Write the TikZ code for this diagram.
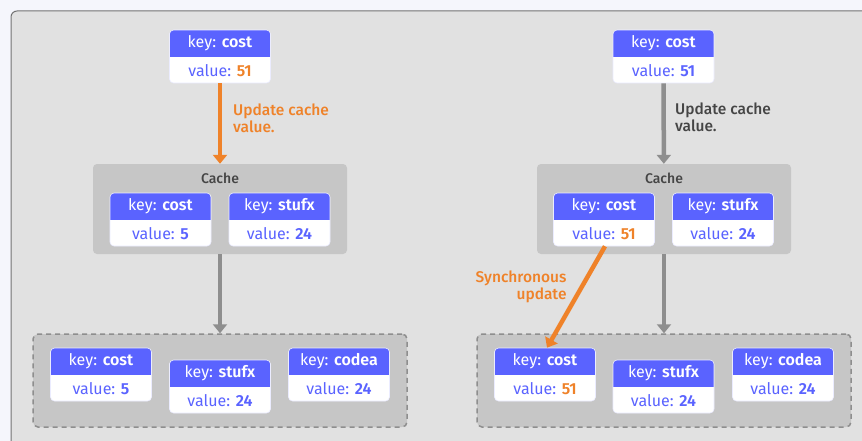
\documentclass[tikz,border=0pt]{standalone}
\usepackage{fontspec}
\setmainfont{Fira Sans}[BoldFont={Fira Sans SemiBold}]
\newfontfamily\firamed{Fira Sans Medium}
\usetikzlibrary{arrows.meta}

\definecolor{keyblue}{HTML}{5A63FF}
\definecolor{updorange}{HTML}{EF8229}
\definecolor{pagebg}{HTML}{F5F6FC}
\definecolor{panelgray}{HTML}{E1E1E1}
\definecolor{cachegray}{HTML}{C6C6C6}
\definecolor{arrowgray}{HTML}{8E8E8E}
\definecolor{textgray}{HTML}{454545}

% name, position, key, value, value colour
\newcommand\kventry[5]{%
  \node[kvbox] (#1) at (#2) {};
  \node[keytext] (#1k) at ([yshift=-13.5pt]#1.north) {key: \textbf{#3}};
  \node[valtext] (#1v) at ([yshift=13pt]#1.south) {value: \textbf{\color{#5}#4}};
}

\begin{document}
\begin{tikzpicture}[x=1pt, y=-1pt, inner sep=0pt, font=\fontsize{16}{18}\selectfont]
    \tikzstyle{kvbox}=[fill=white, draw=keyblue!12, line width=0.6pt, rounded corners=4pt, minimum width=101pt, minimum height=53pt,
        path picture={\fill[keyblue, sharp corners] (path picture bounding box.north west) rectangle ([yshift=26pt]path picture bounding box.south east);}]
    \tikzstyle{keytext}=[text=white]
    \tikzstyle{valtext}=[text=keyblue]
    \tikzstyle{lbltext}=[font=\firamed\fontsize{15.5}{17}\selectfont]
    \tikzstyle{cachelbl}=[text=textgray, font=\firamed\fontsize{14}{16}\selectfont]
    \tikzstyle{cachebox}=[fill=cachegray, rounded corners=4pt, minimum width=254pt, minimum height=90pt]
    \tikzstyle{storebox}=[fill=cachegray, draw=arrowgray, line width=1.5pt, dash pattern=on 5pt off 4pt, rounded corners=5pt, minimum width=374pt, minimum height=93pt]
    \tikzstyle{orangearrow}=[draw=updorange, line width=4.5pt, -{Triangle[width=14pt, length=9pt]}]
    \tikzstyle{grayarrow}=[draw=arrowgray, line width=4.5pt, -{Triangle[width=14pt, length=9pt]}]

    \useasboundingbox[fill=pagebg] (0,0) rectangle (862,441);
    \draw[draw=gray!90!black, line width=1pt, fill=panelgray, rounded corners=6pt] (11,11) rectangle (880,460);

    % left: update the cache only
    \kventry{ltop}{220,56.5}{cost}{51}{updorange}
    \node[cachebox] (lcache) at (220,209) {};
    \node[cachelbl] (lcachelbl) at (220,178) {Cache};
    \kventry{lccost}{160.5,219.5}{cost}{5}{keyblue}
    \kventry{lcstufx}{279.5,219.5}{stufx}{24}{keyblue}
    \node[storebox] (lstore) at (220,380.5) {};
    \kventry{lbcost}{101,374.5}{cost}{5}{keyblue}
    \kventry{lbstufx}{220,386.5}{stufx}{24}{keyblue}
    \kventry{lbcodea}{339,374.5}{codea}{24}{keyblue}

    \draw[orangearrow] (ltop) -- (lcache);
    \node[lbltext, anchor=west, align=left, text=updorange] (lupd) at (233,118) {Update cache\\value.};
    \draw[grayarrow] (lcache) -- (lstore);

    % right: synchronous update
    \kventry{rtop}{663.5,56.5}{cost}{51}{keyblue}
    \node[cachebox] (rcache) at (664,209) {};
    \node[cachelbl] (rcachelbl) at (664,178) {Cache};
    \kventry{rccost}{604,219.5}{cost}{51}{updorange}
    \kventry{rcstufx}{723,219.5}{stufx}{24}{keyblue}
    \node[storebox] (rstore) at (664,380.5) {};
    \kventry{rbcost}{545,374.5}{cost}{51}{updorange}
    \kventry{rbstufx}{663.5,386.5}{stufx}{24}{keyblue}
    \kventry{rbcodea}{783,374.5}{codea}{24}{keyblue}

    \draw[grayarrow] (rtop) -- (rcache);
    \node[lbltext, anchor=west, align=left, text=textgray] (rupd) at (675,117) {Update cache\\value.};
    \draw[grayarrow] (rcache) -- (rstore);
    \draw[orangearrow] ([xshift=1pt]rccost.south) -- ([xshift=2pt]rbcost.north)
        node[lbltext, pos=0.4, left=13pt, align=right, text=updorange] (rsync) {Synchronous\\update};
\end{tikzpicture}
\end{document}
